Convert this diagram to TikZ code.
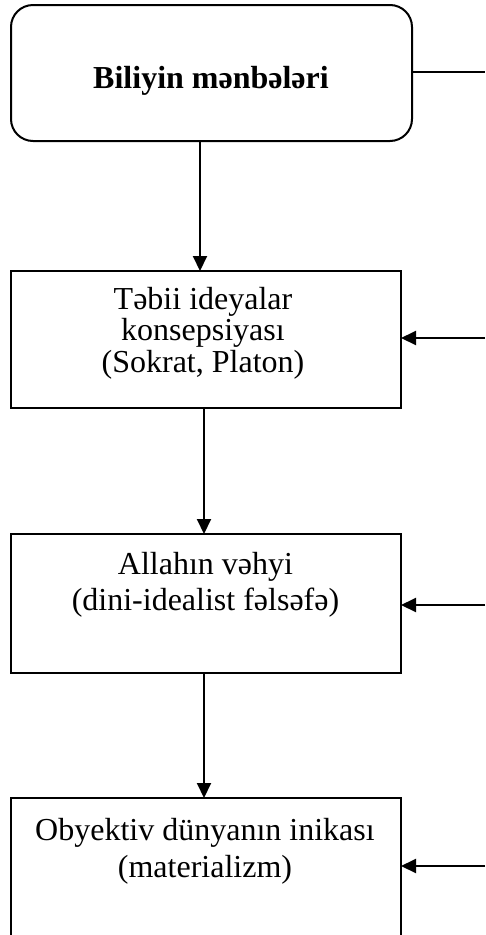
\documentclass[tikz,border=0pt]{standalone}
\usepackage{fontspec}
\setmainfont{Liberation Serif}
\usetikzlibrary{arrows.meta}
\begin{document}
\begin{tikzpicture}[x=1pt,y=-1pt,
  boxline/.style={draw=black,line width=2pt},
  stepbox/.style={boxline,rectangle,minimum width=390pt,inner sep=0pt,outer sep=0pt},
  roundbox/.style={boxline,rectangle,rounded corners=22pt,minimum width=401pt,minimum height=136pt,inner sep=0pt,outer sep=0pt},
  txt/.style={align=center,inner sep=0pt,anchor=base,font=\fontsize{32}{32}\selectfont},
  arr/.style={line width=2pt,-{Triangle[length=15pt,width=14pt]}},
  plain/.style={line width=2pt}]
\useasboundingbox (0,0) rectangle (485,935);
\begin{scope}
\clip (0,0) rectangle (485,935);
% boxes
\node[roundbox] (top) at (211.5,73) {};
\node[stepbox,minimum height=137pt] (b2) at (206,339.5) {};
\node[stepbox,minimum height=139pt] (b3) at (206,603.5) {};
\node[stepbox,minimum height=160pt] (b4) at (206,878) {};
% texts (base anchor = baseline of last line)
\node[txt,font=\fontsize{32}{32}\bfseries\selectfont] (t1) at (211,88) {Biliyin mənbələri};
\node[txt,font=\fontsize{32}{31.5}\selectfont] (t2) at (203,372) {Təbii ideyalar\\konsepsiyası\\(Sokrat, Platon)};
\node[txt,font=\fontsize{32}{36}\selectfont] (t3) at (205.5,610) {Allahın vəhyi\\(dini-idealist fəlsəfə)};
\node[txt,font=\fontsize{32}{37}\selectfont] (t4) at (205,877) {Obyektiv dünyanın inikası\\(materializm)};
% right-side ends
\coordinate (r1) at (485,72);
\coordinate (r2) at (485,338);
\coordinate (r3) at (485,605);
\coordinate (r4) at (485,866);
% connectors
\draw[plain] (top.east |- r1) -- (r1);
\draw[arr] (r2) -- (b2.east |- r2);
\draw[arr] (r3) -- (b3.east |- r3);
\draw[arr] (r4) -- (b4.east |- r4);
\draw[arr] (top.south -| 200,0) -- (b2.north -| 200,0);
\draw[arr] (b2.south -| 204,0) -- (b3.north -| 204,0);
\draw[arr] (b3.south -| 204,0) -- (b4.north -| 204,0);
\end{scope}
\end{tikzpicture}
\end{document}
